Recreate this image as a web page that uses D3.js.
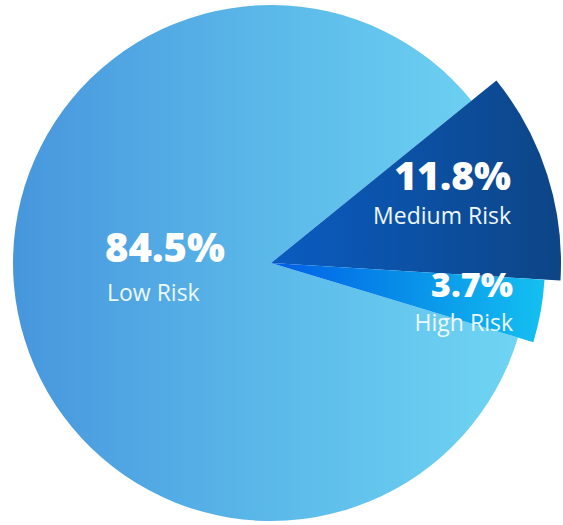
<!DOCTYPE html>
<html>
<head>
<meta charset="utf-8">
<script src="https://cdn.jsdelivr.net/npm/d3@7"></script>
<style>
  html, body { margin: 0; padding: 0; background: #ffffff; }
  svg { display: block; }
</style>
</head>
<body>
<svg id="chart" width="563" height="525"></svg>
<script>
// ---- data ----
const categories = ["Medium Risk", "High Risk", "Low Risk"];
const values = [11.8, 3.7, 84.5];
const valueLabels = ["11.8%", "3.7%", "84.5%"];

// ---- layout ----
const cx = 271, cy = 263;
const baseR = 258;
const outerRadii = { "Low Risk": 258, "Medium Risk": 290, "High Risk": 274 };
const startDeg = 51;

const svg = d3.select("#chart");
const defs = svg.append("defs");

// gradients in the slice group's local coordinates (origin = pie centre)
function grad(id, x1, x2, stops) {
  const g = defs.append("linearGradient")
    .attr("id", id)
    .attr("gradientUnits", "userSpaceOnUse")
    .attr("x1", x1).attr("y1", 0).attr("x2", x2).attr("y2", 0);
  stops.forEach(s => g.append("stop").attr("offset", s[0]).attr("stop-color", s[1]));
}
grad("g-low", -baseR, baseR, [[0, "#4796dd"], [0.5, "#5bb9e9"], [1, "#70d6f3"]]);
grad("g-med", 0, 290, [[0, "#0a5cc2"], [1, "#0d4586"]]);
grad("g-high", 0, 274, [[0, "#005ee6"], [0.6, "#0a9aea"], [1, "#14c0f1"]]);
const fills = { "Low Risk": "url(#g-low)", "Medium Risk": "url(#g-med)", "High Risk": "url(#g-high)" };

const data = categories.map((c, i) => ({ cat: c, value: values[i], label: valueLabels[i] }));

const pie = d3.pie()
  .sort(null)
  .value(d => d.value)
  .startAngle(startDeg * Math.PI / 180)
  .endAngle(startDeg * Math.PI / 180 + 2 * Math.PI);

const arcs = pie(data);

const g = svg.append("g").attr("transform", `translate(${cx},${cy})`);

const rank = c => (c === "Low Risk" ? 0 : 1);
const order = arcs.slice().sort((a, b) => rank(a.data.cat) - rank(b.data.cat));

g.selectAll("path.slice")
  .data(order)
  .join("path")
  .attr("class", "slice")
  .attr("d", d => d3.arc().innerRadius(0).outerRadius(outerRadii[d.data.cat])(d))
  .attr("fill", d => fills[d.data.cat]);

// ---- labels ----
const labelPos = {
  "Low Risk":    { x: 105, y: 262, anchor: "start", nSize: 40, cSize: 23, gap: 39 },
  "Medium Risk": { x: 511, y: 190, anchor: "end",   nSize: 39, cSize: 23, gap: 34 },
  "High Risk":   { x: 513, y: 297, anchor: "end",   nSize: 34, cSize: 23, gap: 34 }
};

const font = "'Open Sans', 'Noto Sans', sans-serif";
const lg = svg.append("g");
arcs.forEach(d => {
  const p = labelPos[d.data.cat];
  lg.append("text")
    .attr("x", p.x).attr("y", p.y)
    .attr("text-anchor", p.anchor)
    .attr("font-family", font)
    .attr("font-weight", 800)
    .attr("font-size", p.nSize)
    .attr("fill", "#ffffff")
    .text(d.data.label);
  lg.append("text")
    .attr("x", p.anchor === "start" ? p.x + 2 : p.x)
    .attr("y", p.y + p.gap)
    .attr("text-anchor", p.anchor)
    .attr("font-family", font)
    .attr("font-weight", 400)
    .attr("font-size", p.cSize)
    .attr("fill", "#eef8ff")
    .text(d.data.cat);
});
</script>
</body>
</html>
